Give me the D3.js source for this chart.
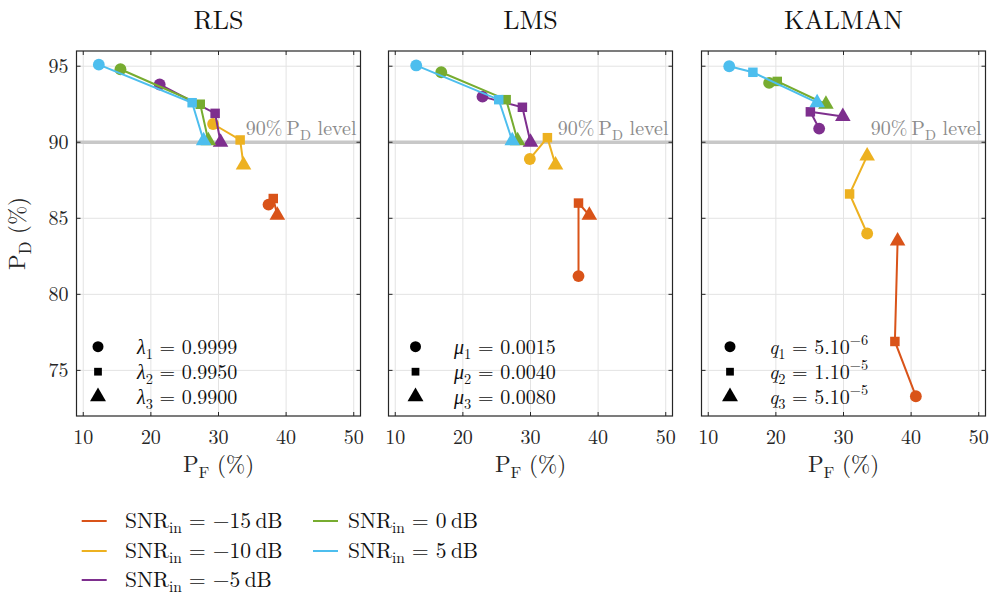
<!DOCTYPE html>
<html>
<head>
<meta charset="utf-8">
<script src="https://cdn.jsdelivr.net/npm/d3@7"></script>
<style>
  body { margin: 0; background: #fff; }
</style>
</head>
<body>
<svg id="chart" width="991" height="594"></svg>
<script>
// SNR series (drawn in this order)
var snrLabels = ["\u221215", "\u221210", "\u22125", "0", "5"];
var snrColors = ["#D95319", "#EDB120", "#7E2F8E", "#77AC30", "#4DBEEE"];

var methods = ["RLS", "LMS", "KALMAN"];

// P_F / P_D (%) for parameter 1, 2, 3 of each SNR
var rlsPF = [[37.4, 38.1, 38.7], [29.2, 33.2, 33.7], [21.3, 29.5, 30.3], [15.5, 27.3, 28.5], [12.3, 26.1, 27.8]];
var rlsPD = [[85.9, 86.3, 85.2], [91.2, 90.15, 88.5], [93.8, 91.9, 90.0], [94.8, 92.5, 90.1], [95.1, 92.6, 90.1]];

var lmsPF = [[37.1, 37.1, 38.7], [29.9, 32.5, 33.7], [22.9, 28.8, 30.0], [16.8, 26.4, 28.1], [13.1, 25.3, 27.3]];
var lmsPD = [[81.2, 86.0, 85.2], [88.9, 90.3, 88.5], [93.0, 92.3, 90.0], [94.6, 92.8, 90.1], [95.05, 92.8, 90.1]];

var kalPF = [[40.7, 37.6, 38.0], [33.5, 30.9, 33.5], [26.4, 25.1, 29.9], [19.0, 20.2, 27.4], [13.1, 16.6, 26.1]];
var kalPD = [[73.3, 76.9, 83.5], [84.0, 86.6, 89.1], [90.9, 92.0, 91.7], [93.9, 94.0, 92.5], [95.0, 94.6, 92.6]];

// parameter legends
var paramSymbols = ["\u03bb", "\u03bc", "q"];
var rlsParams = ["0.9999", "0.9950", "0.9900"];
var lmsParams = ["0.0015", "0.0040", "0.0080"];
var kalMant = ["5", "1", "5"];
var kalExp = ["\u22126", "\u22125", "\u22125"];

var xTicks = [10, 20, 30, 40, 50];
var yTicks = [75, 80, 85, 90, 95];
var pdLevel = 90;

var pfData = [rlsPF, lmsPF, kalPF];
var pdData = [rlsPD, lmsPD, kalPD];

var svg = d3.select("#chart")
    .attr("font-family", "'Latin Modern Roman', 'Liberation Serif', serif")
    .style("white-space", "pre");

var panelX = [76.5, 388.5, 701.5],
    panelW = 284,
    plotTop = 51,
    plotBottom = 416;

var yScale = d3.scaleLinear().domain([72, 96]).range([plotBottom, plotTop]);

var symbolTypes = [d3.symbolCircle, d3.symbolSquare, d3.symbolTriangle];
var symbolSizes = [110, 90, 105];

// rich text helper: parts = [{t, it, sub, sup}]
function rich(sel, parts, fs) {
    var shift = 0;
    parts.forEach(function (p) {
        var ts = sel.append("tspan").text(p.t);
        var target = 0;
        if (p.it) ts.attr("font-style", "italic");
        if (p.sub) { ts.attr("font-size", fs * 0.72); target = fs * 0.25; }
        if (p.sup) { ts.attr("font-size", fs * 0.72); target = -fs * 0.42; }
        if (target - shift !== 0) ts.attr("dy", target - shift);
        shift = target;
    });
}

methods.forEach(function (name, m) {
    var x0 = panelX[m];
    var xScale = d3.scaleLinear().domain([9, 51]).range([x0, x0 + panelW]);
    var g = svg.append("g");

    // grid
    g.selectAll(".gx").data(xTicks).enter().append("line")
        .attr("x1", function (d) { return xScale(d); })
        .attr("x2", function (d) { return xScale(d); })
        .attr("y1", plotTop).attr("y2", plotBottom)
        .attr("stroke", "#e3e3e3").attr("stroke-width", 1);
    g.selectAll(".gy").data(yTicks).enter().append("line")
        .attr("y1", function (d) { return yScale(d); })
        .attr("y2", function (d) { return yScale(d); })
        .attr("x1", x0).attr("x2", x0 + panelW)
        .attr("stroke", "#e3e3e3").attr("stroke-width", 1);

    // 90% level
    g.append("line")
        .attr("x1", x0).attr("x2", x0 + panelW)
        .attr("y1", yScale(pdLevel)).attr("y2", yScale(pdLevel))
        .attr("stroke", "#c8c8c8").attr("stroke-width", 3.5);
    var lvl = g.append("text")
        .attr("x", x0 + panelW - 4).attr("y", yScale(pdLevel) - 7)
        .attr("text-anchor", "end").attr("font-size", 20).attr("fill", "#8c8c8c");
    rich(lvl, [{t: "90%\u2009P"}, {t: "D", sub: true}, {t: "  level"}], 20);

    // series
    var line = d3.line()
        .x(function (d) { return xScale(d[0]); })
        .y(function (d) { return yScale(d[1]); });

    pfData[m].forEach(function (pf, s) {
        var pts = pf.map(function (v, i) { return [v, pdData[m][s][i]]; });
        g.append("path")
            .attr("d", line(pts))
            .attr("fill", "none")
            .attr("stroke", snrColors[s])
            .attr("stroke-width", 2);
        pts.forEach(function (p, i) {
            g.append("path")
                .attr("d", d3.symbol().type(symbolTypes[i]).size(symbolSizes[i])())
                .attr("transform", "translate(" + xScale(p[0]) + "," + yScale(p[1]) + ")")
                .attr("fill", snrColors[s]);
        });
    });

    // axes box
    g.append("rect")
        .attr("x", x0).attr("y", plotTop)
        .attr("width", panelW).attr("height", plotBottom - plotTop)
        .attr("fill", "none").attr("stroke", "#262626").attr("stroke-width", 1.2);

    // inward ticks on all sides
    xTicks.forEach(function (t) {
        g.append("line").attr("x1", xScale(t)).attr("x2", xScale(t))
            .attr("y1", plotBottom).attr("y2", plotBottom - 4).attr("stroke", "#262626");
        g.append("line").attr("x1", xScale(t)).attr("x2", xScale(t))
            .attr("y1", plotTop).attr("y2", plotTop + 4).attr("stroke", "#262626");
        g.append("text").attr("x", xScale(t)).attr("y", plotBottom + 28)
            .attr("text-anchor", "middle").attr("font-size", 20).attr("fill", "#262626")
            .text(t);
    });
    yTicks.forEach(function (t) {
        g.append("line").attr("x1", x0).attr("x2", x0 + 4)
            .attr("y1", yScale(t)).attr("y2", yScale(t)).attr("stroke", "#262626");
        g.append("line").attr("x1", x0 + panelW).attr("x2", x0 + panelW - 4)
            .attr("y1", yScale(t)).attr("y2", yScale(t)).attr("stroke", "#262626");
        if (m === 0) {
            g.append("text").attr("x", x0 - 8).attr("y", yScale(t) + 7)
                .attr("text-anchor", "end").attr("font-size", 20).attr("fill", "#262626")
                .text(t);
        }
    });

    // title
    g.append("text").attr("x", x0 + panelW / 2).attr("y", 29)
        .attr("text-anchor", "middle").attr("font-size", 26).attr("fill", "#111")
        .text(name);

    // x label
    var xl = g.append("text").attr("x", x0 + panelW / 2).attr("y", 472)
        .attr("text-anchor", "middle").attr("font-size", 23).attr("fill", "#262626");
    rich(xl, [{t: "P"}, {t: "F", sub: true}, {t: " (%)"}], 23);

    // parameter legend
    var mkOff = [21.5, 27, 28.5][m], txOff = [60.5, 65.5, 67.5][m];
    [0, 1, 2].forEach(function (i) {
        var yy = 346.7 + i * 25;
        g.append("path")
            .attr("d", d3.symbol().type(symbolTypes[i]).size([95, 60, 110][i])())
            .attr("transform", "translate(" + (x0 + mkOff) + "," + yy + ")")
            .attr("fill", "#000");
        var tx = g.append("text").attr("x", x0 + txOff).attr("y", yy + 7)
            .attr("font-size", 20).attr("fill", "#111");
        var parts = [{t: paramSymbols[m], it: true}, {t: String(i + 1), sub: true}];
        if (m === 0) parts.push({t: " = " + rlsParams[i]});
        else if (m === 1) parts.push({t: " = " + lmsParams[i]});
        else { parts.push({t: " = " + kalMant[i] + ".10"}); parts.push({t: kalExp[i], sup: true}); }
        rich(tx, parts, 20);
    });
});

// y label
var yl = svg.append("text")
    .attr("transform", "translate(25," + ((plotTop + plotBottom) / 2) + ") rotate(-90)")
    .attr("text-anchor", "middle").attr("font-size", 23).attr("fill", "#262626");
rich(yl, [{t: "P"}, {t: "D", sub: true}, {t: " (%)"}], 23);

// SNR legend (column-major, 3 rows)
var legX = [81.7, 313], legRows = [521, 551, 580];
snrLabels.forEach(function (lab, s) {
    var c = Math.floor(s / 3), r = s % 3;
    var lx = legX[c], ly = legRows[r];
    svg.append("line").attr("x1", lx).attr("x2", lx + 25)
        .attr("y1", ly).attr("y2", ly)
        .attr("stroke", snrColors[s]).attr("stroke-width", 2);
    var t = svg.append("text").attr("x", lx + (c === 0 ? 43.3 : 35)).attr("y", ly + 7)
        .attr("font-size", 21.5).attr("fill", "#111");
    rich(t, [{t: "SNR"}, {t: "in", sub: true}, {t: " = " + lab + "\u2009dB"}], 21.5);
});
</script>
</body>
</html>
